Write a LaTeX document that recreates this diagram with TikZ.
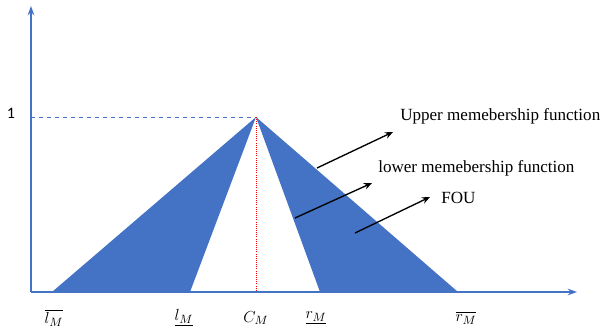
\documentclass[tikz,border=0pt]{standalone}
\usepackage{fontspec}
\setmainfont{Liberation Serif}
\newfontfamily\onefont{Carlito}
\usetikzlibrary{arrows.meta,positioning}
\definecolor{primary}{HTML}{4472C4}
\definecolor{pointer}{HTML}{000000}
\definecolor{centre}{HTML}{FF0000}
\tikzset{
  axis_line/.style={-{Stealth[length=7pt,width=5pt]},draw=primary,line width=1.4pt},
  fou_area/.style={fill=primary,draw=none},
  guide_dash/.style={draw=primary,dashed,line width=0.6pt},
  guide_red/.style={draw=centre,densely dotted,line width=0.6pt},
  ptr/.style={-{Stealth[length=6pt,width=5pt]},draw=pointer,line width=1pt},
  txt_lbl/.style={font=\fontsize{12.8}{15}\selectfont,anchor=west,inner sep=0pt},
  tick_lbl/.style={font=\fontsize{13}{15}\selectfont,inner sep=0pt},
}
\begin{document}
\begin{tikzpicture}[x=0.75pt,y=-0.75pt]
      \useasboundingbox (0,0) rectangle (602,331);
      \coordinate (O) at (31,292);
      \coordinate (ytop) at (31,6);
      \coordinate (xend) at (577,292);
      \coordinate (apex) at (256,117);
      \coordinate (lup) at (52,292); \coordinate (rup) at (458,292);
      \coordinate (llo) at (190,292); \coordinate (rlo) at (320,292);
      \coordinate (cfoot) at (256,292); \coordinate (one) at (31,117);
      % footprint of uncertainty
      \fill[fou_area] (lup)--(apex)--(llo)--cycle;
      \fill[fou_area] (apex)--(rup)--(rlo)--cycle;
      \draw[guide_dash] (one)--(apex);
      \draw[guide_red] (apex)--(cfoot);
      \draw[axis_line] (O)--(ytop);
      \draw[axis_line] (O)--(xend);
      \node[font=\onefont\fontsize{12}{14}\selectfont,inner sep=0pt] (n1) at (11,113) {1};
      \node[tick_lbl] (lbar) at (54,318) {$\overline{l_M}$};
      \node[tick_lbl] (lund) at (184,318) {$\underline{l_M}$};
      \node[tick_lbl] (cm) at (256,318) {$C_M$};
      \node[tick_lbl] (rund) at (316,318) {$\underline{r_M}$};
      \node[tick_lbl] (rbar) at (466,318) {$\overline{r_M}$};
      % pointers
      \node[txt_lbl] (upper) at (400,116) {Upper memebership function};
      \node[txt_lbl] (lower) at (378,168) {lower memebership function};
      \node[txt_lbl] (fou) at (441,198) {FOU};
      \coordinate (us) at (317,168); \coordinate (ue) at (393,132);
      \coordinate (ls) at (295,218); \coordinate (le) at (372,183);
      \coordinate (fs) at (355,233); \coordinate (fe) at (430,197);
      \draw[ptr] (us)--(ue); \draw[ptr] (ls)--(le); \draw[ptr] (fs)--(fe);
    \end{tikzpicture}
\end{document}
